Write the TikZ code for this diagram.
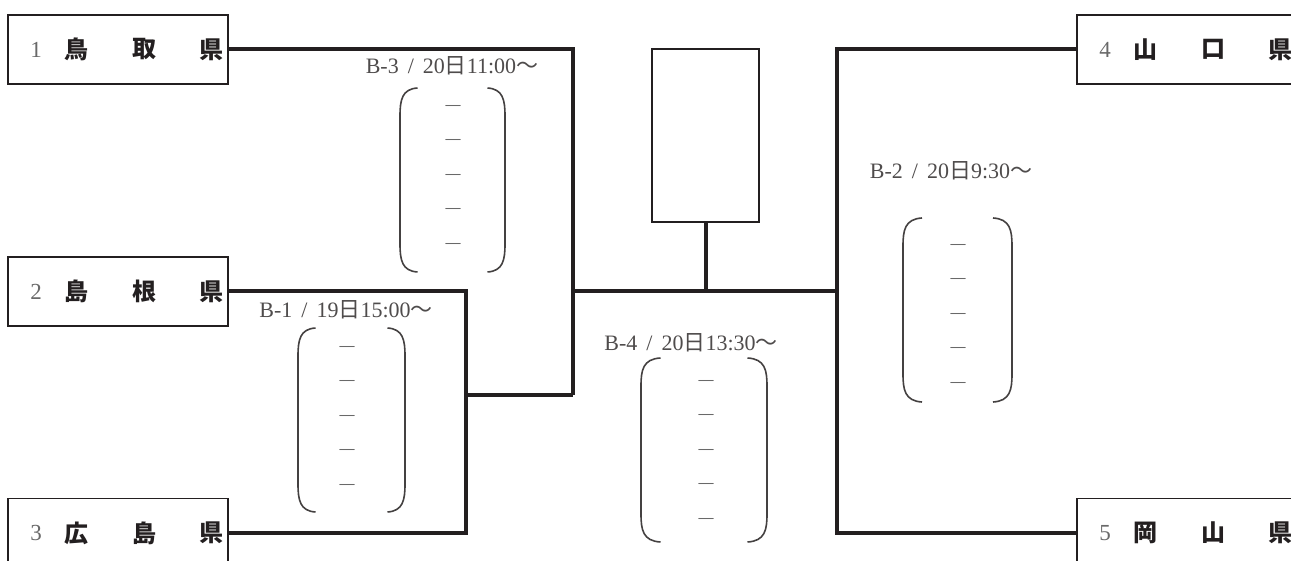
\documentclass[tikz,border=0pt]{standalone}
\usepackage{fontspec}
\setmainfont{Liberation Serif}
\newfontfamily\jpfont{Noto Sans CJK JP}
\usetikzlibrary{calc}
\definecolor{ink}{RGB}{35,31,32}
\definecolor{ink-gray}{RGB}{105,105,105}

% number and three kanji inside a prefecture box
\newcommand{\prefrow}[5]{%
  \node[prefnum]   (#1-n) at ([xshift=29pt]#1.west)  {#2};
  \node[prefkanji] (#1-a) at ([xshift=69pt]#1.west)  {#3};
  \node[prefkanji] (#1-b) at ([xshift=137pt]#1.west) {#4};
  \node[prefkanji] (#1-c) at ([xshift=204pt]#1.west) {#5};
}
\newcommand{\matchlbl}[3]{#1\hspace{9pt}/\hspace{9pt}#2{\jpfont 日}#3{\jpfont ～}}

\begin{document}
\begin{tikzpicture}[
    x=1pt, y=-1pt,
    every node/.style={inner sep=0pt},
    prefbox/.style={rectangle, draw=ink, line width=1.8pt,
                    minimum width=220pt, minimum height=69pt},
    prefnum/.style={text=ink-gray, font=\fontsize{23}{23}\selectfont},
    prefkanji/.style={text=ink, font=\jpfont\bfseries\fontsize{24}{24}\selectfont},
    hubbox/.style={rectangle, draw=ink, line width=1.5pt,
                   minimum width=107pt, minimum height=173pt},
    wire/.style={draw=ink, line width=4pt},
    paren/.style={draw=ink!85, line width=1.6pt},
    slot/.style={text=ink-gray, font=\bfseries\fontsize{15}{15}\selectfont},
    matchlabel/.style={text=ink!80, font=\fontsize{22}{22}\selectfont},
  ]
  \useasboundingbox (0,0) rectangle (1291,561);
  \clip (0,0) rectangle (1291,561);

  % prefectures
  \node[prefbox] (tottori)   at (118,49.5)  {};
  \node[prefbox] (shimane)   at (118,291.5) {};
  \node[prefbox] (hiroshima) at (118,533)   {};
  \node[prefbox] (yamaguchi) at (1187,49.5) {};
  \node[prefbox] (okayama)   at (1187,533)  {};
  \prefrow{tottori}{1}{鳥}{取}{県}
  \prefrow{shimane}{2}{島}{根}{県}
  \prefrow{hiroshima}{3}{広}{島}{県}
  \prefrow{yamaguchi}{4}{山}{口}{県}
  \prefrow{okayama}{5}{岡}{山}{県}

  % final
  \node[hubbox] (hub) at (705.5,135.5) {};

  \coordinate (jw) at (466,395);
  \coordinate (jc) at (573,395);
  \coordinate (busL) at (573,291);
  \coordinate (busR) at (837,291);

  \draw[wire] (shimane.east) -| (jw) |- (hiroshima.east);
  \draw[wire] (jw) -- (jc);
  \draw[wire] (tottori.east) -| (jc);
  \draw[wire] (busL) -- (busR);
  \draw[wire] (hub.south) -- (hub.south |- busL);
  \draw[wire] (yamaguchi.west) -| (busR) |- (okayama.west);

  % match labels
  \node[matchlabel] (lbl-b3) at (452,66)  {\matchlbl{B-3}{20}{11:00}};
  \node[matchlabel] (lbl-b1) at (346,310) {\matchlbl{B-1}{19}{15:00}};
  \node[matchlabel] (lbl-b4) at (691,343) {\matchlbl{B-4}{20}{13:30}};
  \node[matchlabel] (lbl-b2) at (951,171) {\matchlbl{B-2}{20}{9:30}};

  % score brackets
  \foreach \g/\cx/\top/\ow/\tw/\dx/\dy in {b3/452.5/88/52.5/35/453/107,
      b1/351.5/328/53.5/36/347/348, b4/704/358/63/43.5/706/382,
      b2/957.5/218/54.5/35.5/958/246}
  {
    \draw[paren] (\cx-\tw,\top) .. controls (\cx-\ow+2,\top+1) and (\cx-\ow,\top+12) .. (\cx-\ow,\top+28)
      -- (\cx-\ow,\top+156) .. controls (\cx-\ow,\top+172) and (\cx-\ow+2,\top+183) .. (\cx-\tw,\top+184);
    \draw[paren] (\cx+\tw,\top) .. controls (\cx+\ow-2,\top+1) and (\cx+\ow,\top+12) .. (\cx+\ow,\top+28)
      -- (\cx+\ow,\top+156) .. controls (\cx+\ow,\top+172) and (\cx+\ow-2,\top+183) .. (\cx+\tw,\top+184);
    \foreach \k in {0,...,4}
      \node[slot] (\g-slot\k) at (\dx,\dy+34.5*\k) {—};
  }
\end{tikzpicture}
\end{document}
